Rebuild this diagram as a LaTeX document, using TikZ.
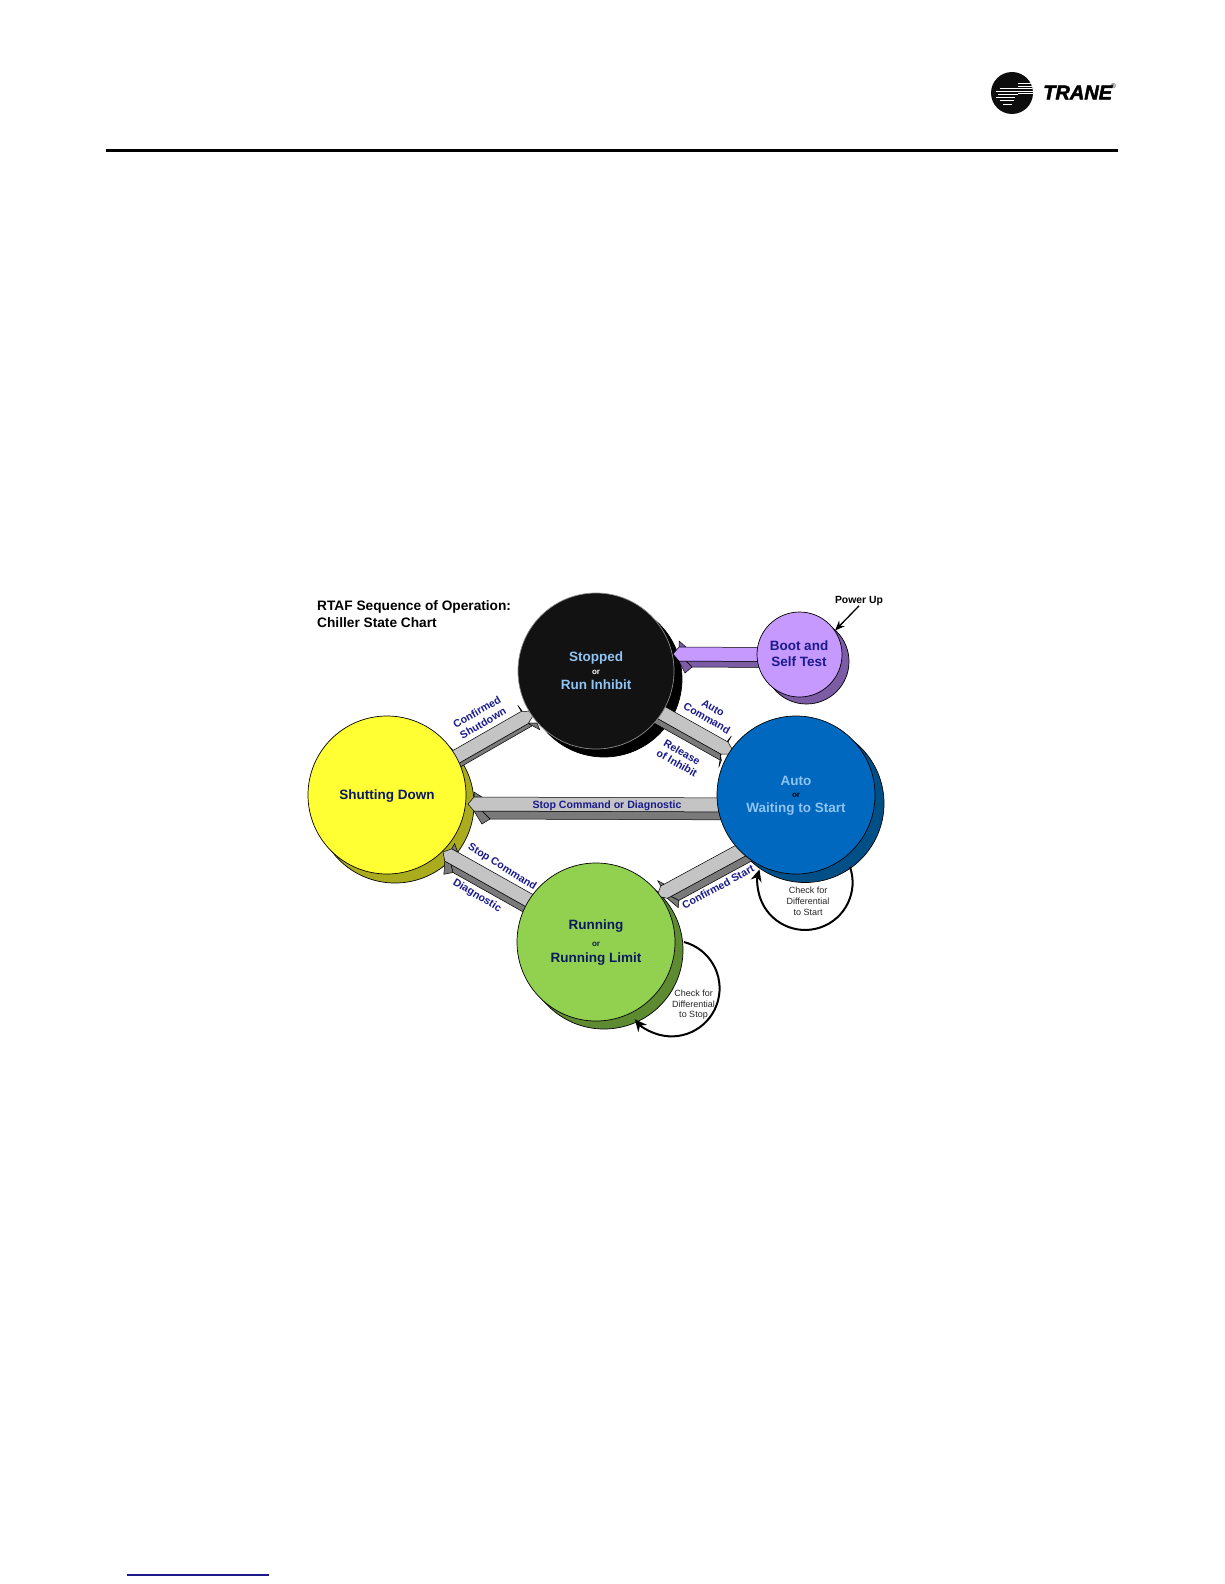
\documentclass[tikz,border=0pt]{standalone}
\usepackage{fontspec}
\setmainfont{Liberation Sans}
\newfontfamily\logofont[BoldItalicFeatures={FakeBold=2.2}]{Liberation Sans}
\usetikzlibrary{calc,arrows.meta}
\definecolor{navy}{HTML}{1A1A8C}
\definecolor{darknavy}{HTML}{0A1A60}
\definecolor{paleblue}{HTML}{8FC3F2}
\definecolor{bootL}{HTML}{C699FF}
\definecolor{bootD}{HTML}{7D5CA6}
\definecolor{arrL}{HTML}{C4C4C4}
\definecolor{arrD}{HTML}{7A7A7A}
\definecolor{yellowL}{HTML}{FFFF33}
\definecolor{yellowD}{HTML}{ABAB1E}
\definecolor{blueL}{HTML}{0068BE}
\definecolor{blueD}{HTML}{004F86}
\definecolor{greenL}{HTML}{92D050}
\definecolor{greenD}{HTML}{5E8A32}
\tikzset{
  x=1pt,y=-1pt,
  disc/.style={circle,draw=black,line width=0.7pt,inner sep=0pt},
  title/.style={font=\fontsize{13.7}{16}\selectfont\bfseries,anchor=west,inner sep=0pt},
  statetext/.style={font=\fontsize{13.5}{16}\selectfont\bfseries,inner sep=0pt},
  ortext/.style={font=\fontsize{8}{10}\selectfont\bfseries,inner sep=0pt},
  arrowtext/.style={font=\fontsize{10.6}{12}\selectfont\bfseries,text=navy,inner sep=0pt},
  looptext/.style={font=\fontsize{9}{11}\selectfont,text=black!85,inner sep=0pt},
  looparc/.style={line width=2pt,-{Stealth[length=12pt,width=11pt]}},
  edgeline/.style={draw=black,line width=0.5pt},
}
% #1 up-side angle (the side away from the extrusion), #2 its opposite,
% then: tail, tip, light, dark, extrusion x, y, wing back (args continue in \blockarrowB)
\newcommand\blockarrow[7]{%
  \def\uside{#1}\def\dside{#2}\def\baT{#3}\def\baH{#4}\def\baL{#5}\def\baD{#6}\def\baE{#7}%
  \blockarrowB}
% #1 wing back, #2 notch back, #3 wing half width
\newcommand\blockarrowB[3]{%
  \coordinate (W) at ($(\baH)!#1pt!(\baT)$);
  \coordinate (N) at ($(\baH)!#2pt!(\baT)$);
  \coordinate (Tu) at ($(\baT)!7pt!\uside:(\baH)$);
  \coordinate (Td) at ($(\baT)!7pt!\dside:(\baH)$);
  \coordinate (Nu) at ($(N)!7pt!\uside:(\baH)$);
  \coordinate (Nd) at ($(N)!7pt!\dside:(\baH)$);
  \coordinate (Qu) at ($(W)!7pt!\uside:(\baH)$);
  \coordinate (Qd) at ($(W)!7pt!\dside:(\baH)$);
  \coordinate (Wu) at ($(W)!#3pt!\uside:(\baH)$);
  \coordinate (Wd) at ($(W)!#3pt!\dside:(\baH)$);
  % extruded shaft
  \filldraw[fill=\baD,edgeline] (Td)--(Nd)--([shift={\baE}]Nd)--([shift={\baE}]Td)--cycle;
  % wings
  \filldraw[fill=\baD,edgeline] (Qu)--(Wu)--(Nu)--cycle;
  \filldraw[fill=\baD,edgeline] (Qd)--([shift={\baE}]Wd)--([shift={\baE}]Nd)--(Nd)--cycle;
  % light face
  \filldraw[fill=\baL,edgeline] (Tu)--(Nu)--(Qu)--(\baH)--(Qd)--(Nd)--(Td)--cycle;
}
\begin{document}
\begin{tikzpicture}
\useasboundingbox (0,0) rectangle (1224,1584);
\fill[white] (0,0) rectangle (1224,1584);

% header
\fill[black!95] (1012,93) circle[radius=21pt];
\begin{scope}
  \clip (1012,93) circle[radius=21pt];
  \foreach \yy in {83.5,86,88.5,91,93.5}{
    \draw[white,line width=0.8pt] (1018,\yy) -- (1034,\yy);
  }
  \draw[white,line width=1pt] (1000,89) -- (1022,89);
  \draw[white,line width=1pt] (996,92) -- (1020,92);
  \draw[white,line width=1pt] (998,95) -- (1018,95);
  \draw[white,line width=1pt] (996,98) -- (1015,98);
  \draw[white,line width=1pt] (1000,101) -- (1014,101);
  \draw[white,line width=1pt] (1003,105) -- (1012,105);
\end{scope}
\node[inner sep=0pt,anchor=west,font=\fontsize{20}{22}\logofont\selectfont\bfseries\itshape] (logotext) at (1043,92.5) {TRANE};
\node[inner sep=0pt,font=\fontsize{7}{7}\selectfont] (reg) at (1113.5,86) {®};
\fill[black] (106,148.5) rectangle (1118,151.5);
\fill[navy] (127,1574.3) rectangle (269,1575.9);

% shadows
\node[disc,fill=black,minimum size=156pt] (stoppedS) at (604,679) {};
\node[disc,fill=yellowD,minimum size=158pt] (shutS) at (395,804) {};
\node[disc,fill=blueD,minimum size=158pt] (autoS) at (805,803.5) {};
\node[disc,fill=greenD,minimum size=158pt] (runningS) at (604,950) {};
\node[disc,fill=bootD,minimum size=85pt] (bootS) at (806.5,661.5) {};

% anchors of the main discs
\coordinate (cStopped) at (596,671);
\coordinate (cShut) at (387,795);
\coordinate (cAuto) at (796,795);
\coordinate (cRunning) at (596,942);
\coordinate (cBoot) at (799.5,654.5);

% loops
\coordinate (loopStartA) at ([shift={(54,72)}]cAuto);
\draw[looparc] (loopStartA) arc[start angle=19,end angle=-196,radius=47.5pt];
\coordinate (loopStopA) at ([shift={(88,0)}]cRunning);
\draw[looparc] (loopStopA) arc[start angle=75,end angle=-140,radius=48pt];

% block arrows
\coordinate (t1) at ([shift={(53,-29)}]cShut);
\coordinate (h1) at ([shift={(-60,40)}]cStopped);
\blockarrow{90}{-90}{t1}{h1}{arrL}{arrD}{(8,0)}{13}{12}{14}
\coordinate (t2) at ([shift={(50,33)}]cStopped);
\coordinate (h2) at ([shift={(-61,-41)}]cAuto);
\blockarrow{90}{-90}{t2}{h2}{arrL}{arrD}{(1,7)}{12}{13}{14}
\coordinate (t3) at ([shift={(-36,10)}]cAuto);
\coordinate (h3) at ([shift={(81,9)}]cShut);
\blockarrow{-90}{90}{t3}{h3}{arrL}{arrD}{(8,8)}{6}{14}{12}
\coordinate (t4) at ([shift={(-22,37.5)}]cAuto);
\coordinate (h4) at ([shift={(61,-46)}]cRunning);
\blockarrow{-90}{90}{t4}{h4}{arrL}{arrD}{(8,4)}{8}{12}{13}
\coordinate (t5) at ([shift={(-32,-22)}]cRunning);
\coordinate (h5) at ([shift={(56,57)}]cShut);
\blockarrow{-90}{90}{t5}{h5}{arrL}{arrD}{(2,8)}{6}{13}{13}

% main discs
\node[disc,fill=black!93,draw=black!45,minimum size=156pt] (stopped) at (cStopped) {};
\node[disc,fill=yellowL,minimum size=158pt] (shut) at (cShut) {};
\node[disc,fill=blueL,minimum size=158pt] (auto) at (cAuto) {};
\node[disc,fill=greenL,minimum size=158pt] (running) at (cRunning) {};

% boot arrow and disc
\coordinate (t6) at ([shift={(-25,0)}]cBoot);
\coordinate (h6) at ([shift={(77,-17)}]cStopped);
\blockarrow{-90}{90}{t6}{h6}{bootL}{bootD}{(6,6)}{6}{13}{13}
\node[disc,fill=bootL,minimum size=85pt] (boot) at (cBoot) {};

% power up
\node[inner sep=0pt,font=\fontsize{10.4}{12}\selectfont\bfseries] (power) at (859,601) {Power Up};
\draw[line width=1.3pt,-{Stealth[length=10pt,width=8pt]}] (power.south) -- (boot.34);

% title
\node[title] (title1) at (317,606.5) {RTAF Sequence of Operation:};
\node[title] (title2) at (317,622.5) {Chiller State Chart};

% state text
\node[statetext,text=paleblue] (s1) at (596,658.5) {Stopped};
\node[ortext,text=white] (s2) at (596,672) {or};
\node[statetext,text=paleblue] (s3) at (596,685) {Run Inhibit};
\node[statetext,text=darknavy] (s4) at (387,796) {Shutting Down};
\node[statetext,text=paleblue] (s5) at (796,781) {Auto};
\node[ortext,text=black] (s6) at (796,795.5) {or};
\node[statetext,text=paleblue] (s7) at (796,809.5) {Waiting to Start};
\node[statetext,text=darknavy] (s8) at (596,926.5) {Running};
\node[ortext,text=darknavy] (s9) at (596,944) {or};
\node[statetext,text=darknavy] (s10) at (596,959.5) {Running Limit};
\node[statetext,text=navy] (s11) at (799,645.5) {Boot and};
\node[statetext,text=navy] (s12) at (799,662) {Self Test};

% arrow labels
\node[arrowtext,rotate=30] (l1) at (477,712) {Confirmed};
\node[arrowtext,rotate=30] (l2) at (483,723) {Shutdown};
\node[arrowtext,rotate=-30] (l3) at (713,708) {Auto};
\node[arrowtext,rotate=-30] (l4) at (707,718) {Command};
\node[arrowtext,rotate=-30] (l5) at (682,752) {Release};
\node[arrowtext,rotate=-30] (l6) at (677,763) {of Inhibit};
\node[arrowtext] (l7) at (607,805.5) {Stop Command or Diagnostic};
\node[arrowtext,rotate=-32] (l8) at (502,867) {Stop Command};
\node[arrowtext,rotate=-31] (l9) at (477,896) {Diagnostic};
\node[arrowtext,rotate=28.6] (l10) at (718,887) {Confirmed Start};

% loop text
\node[looptext] (c1) at (808,890) {Check for};
\node[looptext] (c2) at (808,901) {Differential};
\node[looptext] (c3) at (808,912) {to Start};
\node[looptext] (c4) at (693.5,993) {Check for};
\node[looptext] (c5) at (693.5,1004) {Differential};
\node[looptext] (c6) at (693.5,1015) {to Stop};
\end{tikzpicture}
\end{document}
